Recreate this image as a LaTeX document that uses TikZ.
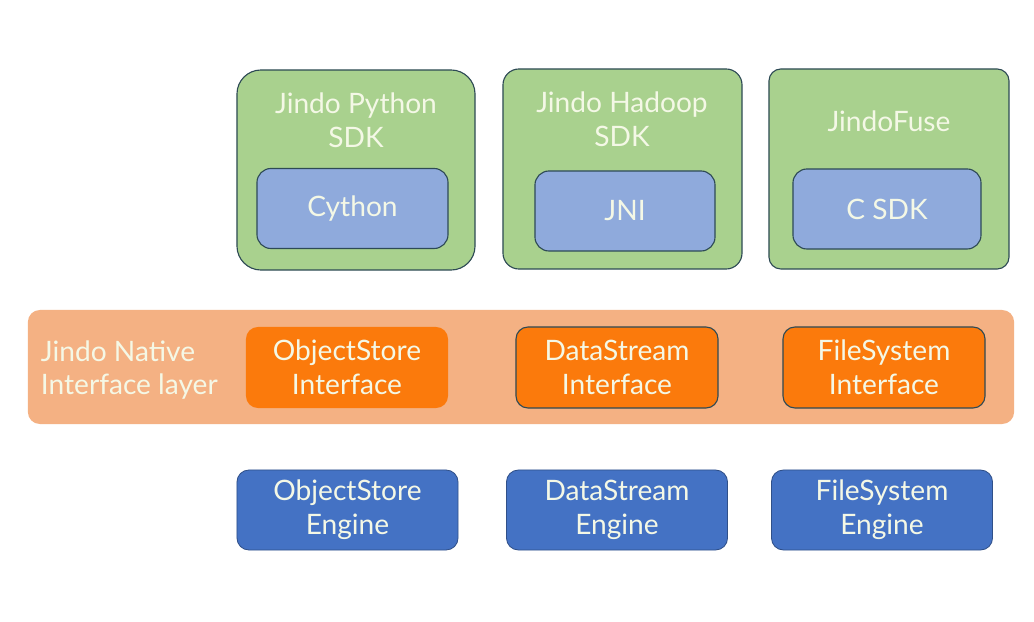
\documentclass[tikz,border=0pt]{standalone}
\usepackage{fontspec}
\setmainfont{Lato}
\usepackage{tikz}

\definecolor{sdkgreen}{HTML}{A9D18E}
\definecolor{bindblue}{HTML}{8FAADC}
\definecolor{layerorange}{HTML}{F4B183}
\definecolor{intforange}{HTML}{FB7A0C}
\definecolor{engineblue}{HTML}{4472C4}
\definecolor{edgedark}{HTML}{2E4A55}
\definecolor{labelwhite}{HTML}{F4F8E6}

\tikzset{
    boxtext/.style={text=labelwhite, font=\fontsize{20}{24}\selectfont, align=center},
    sdkbox/.style={fill=sdkgreen, draw=edgedark, line width=0.8pt, minimum height=5cm},
    bindbox/.style={boxtext, fill=bindblue, draw=edgedark, line width=0.8pt, minimum height=2cm, rounded corners=0.35cm},
    intfbox/.style={boxtext, fill=intforange, draw=edgedark, line width=0.8pt, minimum width=5.05cm, minimum height=2.025cm, rounded corners=0.3cm},
    enginebox/.style={boxtext, fill=engineblue, draw=engineblue!70!black, line width=0.6pt, minimum width=5.525cm, minimum height=2cm, rounded corners=0.3cm}
}

\begin{document}
\begin{tikzpicture}[x=0.025cm, y=-0.025cm]
    \useasboundingbox[fill=white] (0,0) rectangle (1034,622);

    % SDK layer
    \node (py) [sdkbox, minimum width=5.95cm, rounded corners=0.6cm] at (356,170) {};
    \node (hd) [sdkbox, minimum width=5.975cm, rounded corners=0.4cm] at (622.5,169) {};
    \node (fu) [sdkbox, minimum width=6cm, rounded corners=0.3cm] at (889,169) {};

    \node (pyT) [boxtext] at (356,120) {Jindo Python\\SDK};
    \node (hdT) [boxtext] at (622,119) {Jindo Hadoop\\SDK};
    \node (fuT) [boxtext] at (889,121) {JindoFuse};

    \node (cy) [bindbox, minimum width=4.775cm] at (352.5,208.5) {Cython};
    \node (jni) [bindbox, minimum width=4.5cm] at (625,211) {JNI};
    \node (csdk) [bindbox, minimum width=4.7cm] at (887,209) {C SDK};

    % native interface layer
    \node (layer) [fill=layerorange, minimum width=24.65cm, minimum height=2.85cm, rounded corners=0.3cm] at (521,367) {};
    \node (layerT) [boxtext, align=left, anchor=west] at (36,370) {Jindo Native\\Interface layer};

    \node (osI) [intfbox, draw=none] at (347,367.5) {ObjectStore\\Interface};
    \node (dsI) [intfbox] at (617,367.5) {DataStream\\Interface};
    \node (fsI) [intfbox] at (884,367.5) {FileSystem\\Interface};

    % engines
    \node (osE) [enginebox] at (347.5,510) {ObjectStore\\Engine};
    \node (dsE) [enginebox] at (617,510) {DataStream\\Engine};
    \node (fsE) [enginebox] at (882,510) {FileSystem\\Engine};
\end{tikzpicture}
\end{document}
